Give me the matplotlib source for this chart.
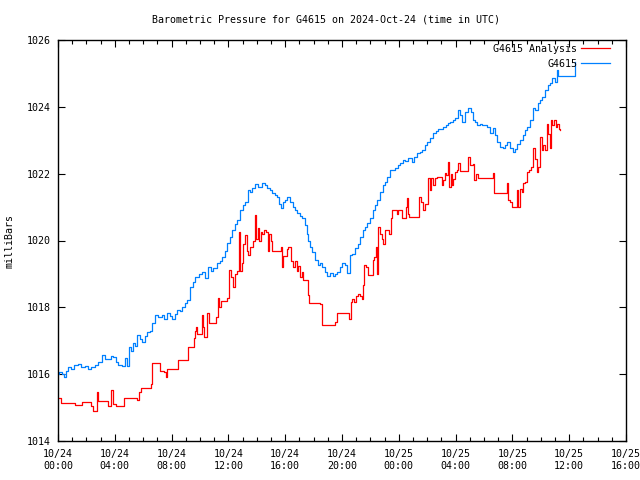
import matplotlib
matplotlib.use('Agg')
import matplotlib.pyplot as plt
import matplotlib.dates as mdates
import pandas as pd

plt.rcParams['font.family'] = ['DejaVu Sans Mono']
plt.rcParams['font.size'] = 7

title = 'Barometric Pressure for G4615 on 2024-Oct-24 (time in UTC)'
start = pd.Timestamp('2024-10-24 00:00')
x_end = pd.Timestamp('2024-10-25 16:00')

# station obs, minutes after 10/24 00:00 UTC
station_min = [
    0, 4, 17, 25, 34, 42, 55, 68, 85, 97, 114, 127, 139, 156, 169, 186, 199, 211,
    224, 232, 245, 254, 270, 283, 292, 296, 300, 308, 317, 325, 334, 346, 355,
    368, 376, 389, 397, 410, 423, 439, 448, 461, 473, 482, 494, 503, 515, 524,
    537, 545, 558, 570, 579, 596, 608, 621, 634, 646, 655, 672, 684, 693, 706,
    714, 727, 735, 748, 756, 769, 782, 790, 803, 811, 820, 832, 845, 862, 875,
    883, 896, 904, 917, 925, 934, 942, 951, 959, 968, 980, 993, 1001, 1010,
    1022, 1031, 1044, 1052, 1056, 1065, 1073, 1086, 1099, 1107, 1115, 1128,
    1137, 1149, 1162, 1170, 1179, 1191, 1200, 1213, 1221, 1234, 1242, 1255,
    1268, 1276, 1289, 1297, 1306, 1318, 1331, 1339, 1348, 1360, 1373, 1382,
    1390, 1403, 1411, 1424, 1437, 1445, 1458, 1466, 1479, 1496, 1504, 1517,
    1529, 1538, 1551, 1559, 1572, 1584, 1597, 1606, 1618, 1627, 1639, 1648,
    1656, 1669, 1677, 1690, 1698, 1707, 1720, 1732, 1745, 1753, 1762, 1770,
    1783, 1791, 1804, 1813, 1825, 1838, 1846, 1855, 1867, 1880, 1889, 1897,
    1910, 1922, 1931, 1939, 1952, 1965, 1973, 1982, 1994, 2007, 2015, 2028,
    2036, 2045, 2058, 2070, 2079, 2087, 2100, 2108, 2113, 2176, 2184,
]
station_mb = [
    1016.00, 1016.05, 1016.00, 1015.93, 1016.10, 1016.22, 1016.15, 1016.28,
    1016.30, 1016.20, 1016.25, 1016.15, 1016.22, 1016.27, 1016.35, 1016.57,
    1016.45, 1016.45, 1016.55, 1016.50, 1016.35, 1016.27, 1016.24, 1016.48,
    1016.24, 1016.24, 1016.80, 1016.70, 1016.93, 1016.85, 1017.17, 1017.05,
    1016.96, 1017.15, 1017.26, 1017.30, 1017.53, 1017.77, 1017.70, 1017.77,
    1017.65, 1017.83, 1017.75, 1017.65, 1017.80, 1017.92, 1017.90, 1018.01,
    1018.14, 1018.22, 1018.60, 1018.75, 1018.90, 1019.00, 1019.06, 1018.88,
    1019.20, 1019.10, 1019.17, 1019.33, 1019.40, 1019.50, 1019.70, 1019.93,
    1020.10, 1020.30, 1020.50, 1020.60, 1020.90, 1021.05, 1021.15, 1021.50,
    1021.45, 1021.57, 1021.69, 1021.60, 1021.72, 1021.65, 1021.57, 1021.50,
    1021.42, 1021.35, 1021.30, 1021.10, 1020.97, 1021.15, 1021.20, 1021.30,
    1021.15, 1021.00, 1020.90, 1020.82, 1020.72, 1020.67, 1020.46, 1020.20,
    1020.00, 1019.80, 1019.66, 1019.42, 1019.27, 1019.33, 1019.20, 1019.06,
    1018.95, 1019.03, 1018.94, 1019.00, 1019.06, 1019.20, 1019.33, 1019.27,
    1019.03, 1019.57, 1019.60, 1019.78, 1019.90, 1020.10, 1020.30, 1020.40,
    1020.52, 1020.67, 1020.90, 1021.05, 1021.20, 1021.45, 1021.66, 1021.75,
    1021.90, 1022.10, 1022.10, 1022.17, 1022.25, 1022.32, 1022.41, 1022.38,
    1022.47, 1022.35, 1022.50, 1022.62, 1022.66, 1022.71, 1022.86, 1022.95,
    1023.07, 1023.22, 1023.28, 1023.34, 1023.35, 1023.40, 1023.45, 1023.52,
    1023.55, 1023.62, 1023.67, 1023.90, 1023.75, 1023.55, 1023.85, 1023.96,
    1023.85, 1023.60, 1023.55, 1023.45, 1023.50, 1023.45, 1023.45, 1023.40,
    1023.22, 1023.37, 1023.15, 1022.95, 1022.80, 1022.77, 1022.85, 1022.95,
    1022.77, 1022.65, 1022.75, 1022.90, 1023.00, 1023.16, 1023.30, 1023.40,
    1023.60, 1023.96, 1023.90, 1024.10, 1024.20, 1024.30, 1024.50, 1024.65,
    1024.70, 1024.86, 1024.74, 1025.10, 1024.93, 1024.93, 1025.34,
]

# analysis series
analysis_min = [
    0, 13, 72, 101, 139, 148, 161, 165, 169, 211, 220, 224, 232, 245, 279, 334,
    342, 351, 393, 397, 427, 431, 448, 456, 461, 503, 507, 541, 549, 566, 575,
    579, 583, 587, 600, 608, 613, 617, 625, 630, 638, 663, 668, 676, 680, 689,
    697, 714, 722, 731, 739, 748, 756, 765, 769, 777, 782, 790, 799, 803, 811,
    820, 824, 832, 837, 845, 849, 858, 862, 870, 879, 887, 891, 900, 904, 938,
    942, 946, 951, 959, 968, 972, 984, 993, 1001, 1010, 1014, 1022, 1031, 1035,
    1052, 1056, 1060, 1107, 1115, 1162, 1170, 1179, 1221, 1230, 1238, 1242,
    1251, 1259, 1268, 1276, 1284, 1289, 1293, 1301, 1310, 1327, 1331, 1335,
    1344, 1348, 1352, 1360, 1369, 1373, 1382, 1394, 1399, 1407, 1411, 1424,
    1432, 1437, 1453, 1466, 1470, 1475, 1479, 1483, 1521, 1525, 1534, 1542,
    1551, 1559, 1563, 1572, 1576, 1584, 1593, 1601, 1614, 1622, 1627, 1635,
    1639, 1648, 1652, 1660, 1665, 1669, 1677, 1686, 1690, 1698, 1728, 1732,
    1741, 1753, 1758, 1766, 1775, 1834, 1838, 1842, 1889, 1897, 1901, 1910,
    1918, 1935, 1939, 1944, 1952, 1960, 1965, 1973, 1982, 1990, 1998, 2007,
    2015, 2024, 2028, 2036, 2045, 2049, 2058, 2066, 2070, 2079, 2083, 2087,
    2096, 2104, 2108, 2117, 2121,
]
analysis_mb = [
    1015.29, 1015.14, 1015.08, 1015.18, 1015.05, 1014.90, 1014.90, 1015.46,
    1015.20, 1015.05, 1015.05, 1015.53, 1015.12, 1015.05, 1015.29, 1015.22,
    1015.48, 1015.58, 1015.70, 1016.33, 1016.33, 1016.10, 1016.05, 1015.93,
    1016.15, 1016.15, 1016.42, 1016.42, 1016.80, 1016.80, 1017.08, 1017.29,
    1017.41, 1017.20, 1017.20, 1017.77, 1017.40, 1017.10, 1017.10, 1017.82,
    1017.53, 1017.53, 1017.70, 1018.28, 1018.00, 1018.20, 1018.20, 1018.28,
    1019.11, 1018.90, 1018.60, 1019.00, 1019.10, 1020.25, 1019.10, 1019.33,
    1019.90, 1020.16, 1019.70, 1019.57, 1019.80, 1019.80, 1020.00, 1020.76,
    1020.05, 1020.37, 1020.00, 1020.25, 1020.20, 1020.30, 1020.25, 1019.70,
    1020.20, 1020.00, 1019.68, 1019.68, 1019.80, 1019.20, 1019.55, 1019.55,
    1019.76, 1019.80, 1019.40, 1019.20, 1019.40, 1019.10, 1019.25, 1018.90,
    1019.05, 1018.82, 1018.82, 1018.37, 1018.13, 1018.10, 1017.47, 1017.47,
    1017.55, 1017.83, 1017.83, 1017.66, 1018.16, 1018.25, 1018.16, 1018.34,
    1018.40, 1018.35, 1018.25, 1018.67, 1019.27, 1019.20, 1018.98, 1018.98,
    1019.42, 1019.50, 1019.80, 1019.00, 1020.40, 1020.20, 1020.05, 1019.90,
    1020.30, 1020.30, 1020.20, 1020.67, 1020.90, 1020.90, 1020.80, 1020.92,
    1020.67, 1020.67, 1021.00, 1021.27, 1020.80, 1020.70, 1020.70, 1021.30,
    1021.15, 1020.90, 1021.10, 1021.10, 1021.87, 1021.50, 1021.87, 1021.65,
    1021.87, 1021.90, 1021.90, 1021.65, 1021.80, 1022.02, 1021.95, 1022.35,
    1021.60, 1022.00, 1021.65, 1021.85, 1022.05, 1022.10, 1022.32, 1022.08,
    1022.08, 1022.50, 1022.25, 1022.30, 1021.81, 1022.00, 1021.87, 1021.87,
    1022.02, 1021.42, 1021.42, 1021.72, 1021.20, 1021.15, 1021.00, 1021.00,
    1021.51, 1021.00, 1021.55, 1021.45, 1021.72, 1021.75, 1022.05, 1022.10,
    1022.20, 1022.77, 1022.45, 1022.05, 1022.20, 1023.10, 1022.70, 1022.85,
    1022.70, 1023.50, 1023.20, 1022.77, 1023.60, 1023.45, 1023.60, 1023.40,
    1023.50, 1023.35, 1023.30,
]

t_station = start + pd.to_timedelta(station_min, unit='m')
t_analysis = start + pd.to_timedelta(analysis_min, unit='m')

fig = plt.figure(figsize=(6.4, 4.8), dpi=100)
ax = fig.add_axes([58 / 640, 39 / 480, 568 / 640, 401 / 480])

ax.plot(t_analysis, analysis_mb, color='#ff0000', lw=0.9,
        drawstyle='steps-post', label='G4615 Analysis')
ax.plot(t_station, station_mb, color='#0080ff', lw=0.9,
        drawstyle='steps-post', label='G4615')

ax.set_xlim(start, x_end)
ax.set_ylim(1014, 1026)
ax.set_yticks(range(1014, 1027, 2))
ax.xaxis.set_major_locator(mdates.HourLocator(byhour=range(0, 24, 4)))
ax.xaxis.set_minor_locator(mdates.HourLocator())
ax.xaxis.set_major_formatter(mdates.DateFormatter('%m/%d\n%H:%M'))

ax.tick_params(which='both', direction='in', top=True, right=True,
               width=0.8, labelsize=7.2, color='black')
ax.tick_params(which='major', length=5, pad=5)
ax.tick_params(which='minor', length=3)
ax.tick_params(axis='x', pad=6)
for s in ax.spines.values():
    s.set_linewidth(1.0)

ax.set_ylabel('milliBars', fontsize=7.2, labelpad=9)
fig.text(0.5 + 6 / 640, 1 - 19 / 480, title, ha='center', va='center',
         fontsize=7.2)

leg = ax.legend(loc='upper right', bbox_to_anchor=(0.979, 1.001),
                frameon=False, markerfirst=False, handlelength=2.9,
                fontsize=7.2, borderaxespad=0, handletextpad=0.4,
                labelspacing=0.5)
for txt in leg.get_texts():
    txt.set_ha('right')

fig.savefig('out.png', dpi=100)
